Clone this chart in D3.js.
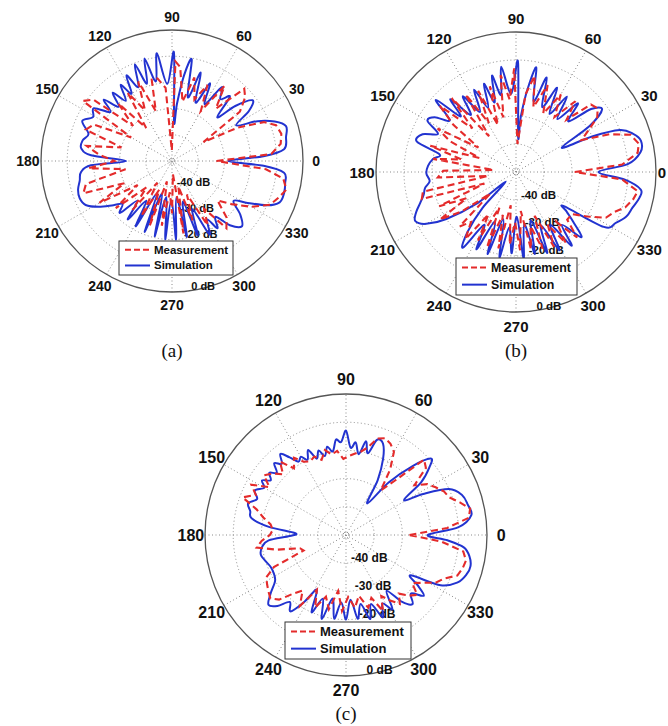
<!DOCTYPE html>
<html>
<head>
<meta charset="utf-8">
<script src="https://cdn.jsdelivr.net/npm/d3@7"></script>
<style>
  body { margin: 0; background: #fff; }
  svg { display: block; }
</style>
</head>
<body>
<svg id="chart"></svg>
<script>
// shared axis values
const angleTicks = [0, 30, 60, 90, 120, 150, 180, 210, 240, 270, 300, 330]
const dbRings = [-40, -30, -20, -10]
const dbLabelValues = [-40, -30, -20, 0]   // -10 dB sits under the legend box
const seriesNames = ['Measurement', 'Simulation']
const panelNames = ['(a)', '(b)', '(c)']

// [angle (deg), gain (dB)]
const simA = [[0,-28.5],[3,-15],[6,-7],[12,-5.5],[17,-4.5],[21,-8],[25,-14],[29,-22],[33,-15],[37,-11.5],[41,-18],[44,-26],[48,-17],[52,-20],[56,-16],[60,-25],[64,-17],[68,-26],[72,-14.5],[76,-25],[79,-10.5],[82,-17],[85,-28],[87,-35],[89,-8.5],[93.5,-20.5],[98,-8.5],[101.5,-19],[105,-9.5],[108,-19],[111,-10.5],[114.5,-19],[118,-13],[121,-20],[124,-15],[127.5,-21],[131,-15.5],[134.5,-21],[138,-15],[141.5,-20],[146,-14],[151,-15.5],[156,-12.5],[162,-16.5],[167,-15],[172,-15],[176,-19],[180,-32.5],[183,-19],[187,-15],[192,-14],[197,-12.5],[202,-12],[207,-13],[212,-17],[217,-22],[221,-25],[225,-22],[229,-30],[233,-22],[237,-32],[241,-21.5],[245,-36],[249,-21],[253,-37],[257,-20.5],[261,-36],[265,-20],[269,-35],[273,-20],[277,-36],[281,-20.5],[285,-34],[289,-20],[293,-30],[297,-18.5],[301,-24],[304,-19],[308,-23],[312,-17],[317,-13.5],[322,-17],[327,-22],[331,-17],[335,-10],[339,-6],[344,-5.5],[349,-6],[354,-7],[357,-15]]
const measA = [[0,-33],[4,-12],[9,-8],[14,-7],[19,-8],[23,-12],[27,-22],[31,-36],[36,-18],[41,-13],[45,-11],[50,-24],[55,-15],[60,-28],[65,-18],[70,-25],[75,-17],[80,-27],[85,-14],[88,-12],[91,-46],[95,-22],[100,-18],[104,-18],[108,-30],[113,-17],[118,-28],[123,-19],[128,-34],[133,-20],[138,-30],[142,-12],[146,-9],[150,-32],[155,-17],[160,-15],[165,-30],[170,-17],[175,-22],[180,-28],[185,-18],[190,-32],[195,-16],[200,-14],[205,-30],[210,-18],[215,-34],[220,-22],[226,-36],[231,-26],[236,-40],[241,-26],[246,-38],[251,-24],[256,-42],[261,-25],[266,-38],[270,-30],[274,-45],[279,-22],[284,-40],[289,-26],[294,-36],[299,-22],[304,-28],[309,-17],[314,-20],[319,-27],[324,-22],[330,-15],[336,-9],[341,-7],[346,-5],[351,-7],[355,-14]]

const simB = [[0,-20.5],[4,-10],[9,-5],[14,-4],[18,-6],[22,-10],[25,-20],[28,-31.5],[32,-19],[36,-12],[40,-15],[44,-24],[48,-17],[52,-26],[56,-17.5],[60,-26],[64,-16.5],[68,-25],[72,-14.5],[76,-24],[79,-12],[82,-20],[85,-30],[86.5,-37.5],[89,-10.5],[93.5,-22],[98,-12],[101,-22],[104,-14.5],[107,-24],[110,-16.5],[113.5,-25],[117,-17],[121,-25],[125,-17],[128.5,-24],[132,-15],[135,-22],[138,-11.5],[142,-20],[146,-15],[150,-13.5],[154,-19],[158,-14],[163,-13],[167,-22],[171,-20],[176,-18.5],[181,-18],[186,-19],[190,-17],[194,-16],[198,-14],[202,-11.5],[206,-10],[210,-13],[214,-20],[219,-32.5],[223,-45],[227,-32.5],[231,-22.5],[235,-17],[239,-28],[243,-19],[247,-31],[251,-19],[255,-32.5],[259,-19],[263,-30],[267,-21],[271,-34],[275,-19],[279,-31],[283,-20],[287,-32],[291,-19],[295,-29],[299,-18],[303,-27.5],[307,-17],[311,-25],[315,-17],[319,-23],[322,-27],[324.5,-29],[328,-13],[333,-10],[338,-7.5],[343,-6.5],[348,-5],[352,-5],[356,-11]]
const measB = [[0,-29],[4,-12],[9,-6],[13,-5],[18,-7],[22,-14],[26,-24],[30,-20],[34,-15],[38,-13],[42,-14],[46,-24],[50,-17],[55,-26],[60,-18],[65,-27],[70,-17],[75,-26],[79,-15],[83,-22],[87,-40],[91,-13],[95,-24],[99,-15],[103,-30],[107,-18],[111,-32],[115,-18],[119,-30],[123,-17],[127,-34],[131,-15],[135,-28],[139,-14],[143,-22],[147,-34],[151,-18],[155,-24],[159,-36],[163,-18],[167,-30],[171,-20],[175,-42],[179,-24],[184,-22],[188,-40],[192,-16],[196,-15],[200,-38],[204,-20],[208,-30],[212,-18],[216,-26],[220,-38],[224,-22],[228,-26],[233,-20],[237,-32],[241,-22],[245,-36],[249,-21],[253,-34],[257,-22],[261,-38],[265,-24],[269,-32],[273,-22],[277,-36],[281,-22],[285,-30],[289,-21],[293,-33],[297,-20],[301,-28],[305,-19],[309,-27],[313,-18],[317,-25],[323,-25],[328,-20],[333,-14],[338,-12],[342,-9],[347,-7],[351,-6],[356,-12]]

const simC = [[0,-21],[4,-10],[9,-5],[14,-5.5],[19,-6.5],[24,-10],[28,-19],[31,-26],[35,-17.5],[39,-12],[42,-9.5],[46,-16],[51,-26],[56,-36.5],[60,-27.5],[64,-20],[68,-15],[72,-14.5],[75,-20],[78,-16],[81,-21],[84,-17],[87,-19],[90,-13],[93,-17],[96,-16],[99,-20],[102,-18],[105,-21],[108,-18.5],[111,-21],[114,-17],[117,-20],[120,-18],[123,-19],[126,-16],[129,-13],[132,-16],[135,-14],[138,-17],[141,-15],[144,-17],[147,-14.5],[150,-16.5],[154,-14],[158,-16],[162,-13.5],[166,-15],[170,-16],[174,-22.5],[178,-32],[181,-30],[184,-22.5],[188,-20],[193,-19],[198,-20],[203,-21],[208,-21],[213,-20],[218,-16],[222,-13],[226,-15],[230,-19],[234,-16.5],[238,-22],[242,-28],[246,-20],[250,-26],[254,-19],[258,-27],[262,-20],[266,-26],[270,-20],[274,-27],[278,-20],[282,-25],[286,-19],[290,-24],[294,-18],[298,-22.5],[302,-19],[306,-25.5],[310,-19],[314,-16],[318,-19],[322,-15],[325,-19],[328,-23],[332,-12],[337,-7],[342,-5],[346,-4.5],[350,-5.5],[354,-8],[357,-14]]
const measC = [[0,-27.5],[4,-14],[8,-6],[12,-5],[16,-8],[20,-11],[24,-12],[28,-14],[32,-16],[36,-20],[40,-13],[44,-11.5],[48,-24],[52,-30],[56,-22],[60,-16],[64,-14],[68,-13],[72,-14],[76,-18],[80,-20],[84,-21],[88,-22],[92,-23],[96,-20],[100,-21],[104,-19],[108,-22],[112,-20],[116,-21],[120,-20],[124,-17],[128,-20],[132,-15],[136,-19],[140,-16],[144,-14],[148,-18],[152,-12],[156,-15],[160,-11],[164,-17],[168,-20],[172,-23],[176,-24],[180,-23],[184,-20],[188,-18],[192,-25],[196,-33],[200,-34],[204,-22],[208,-18],[212,-17],[216,-16],[220,-15],[224,-17],[228,-22],[232,-25],[237,-20],[242,-28],[247,-22],[252,-27],[257,-23],[262,-30],[267,-23],[272,-28],[277,-24],[282,-28],[287,-23],[292,-26],[296,-20],[300,-25],[304,-22],[308,-19],[312,-22],[316,-19],[320,-17],[324,-21],[328,-18],[332,-14],[336,-12],[340,-8],[344,-7],[348,-6.5],[352,-8],[356,-16]]

// panel layout
const panels = [
    {name: panelNames[0], cx: 172, cy: 161, r: 131, tickSize: 14, dbSize: 11, legSize: 11.5, legend: [119, 241, 114, 34], caption: [172, 357], meas: measA, sim: simA},
    {name: panelNames[1], cx: 516, cy: 172, r: 140, tickSize: 15, dbSize: 11.5, legSize: 12.4, legend: [456, 258, 121, 37], caption: [516, 357], meas: measB, sim: simB},
    {name: panelNames[2], cx: 346, cy: 535, r: 141, tickSize: 16, dbSize: 12, legSize: 13, legend: [285, 622, 126, 37], caption: [346, 720], meas: measC, sim: simC}
]

const width = 668
const height = 726
const blue = '#2233d0'
const red = '#e42b2b'
const font = '"Liberation Sans", Arial, Helvetica, sans-serif'

const svg = d3.select('#chart')
    .attr('width', width)
    .attr('height', height)
    .attr('viewBox', `0 0 ${width} ${height}`)
    .style('background', '#fff')

const rad = deg => (90 - deg) * Math.PI / 180

const drawPanel = (p) => {
    const g = svg.append('g').attr('transform', `translate(${p.cx},${p.cy})`)
    const rScale = d3.scaleLinear().domain([-50, 0]).range([0, p.r]).clamp(true)

    // dotted rings
    g.selectAll('.ring')
        .data(dbRings)
        .enter()
        .append('circle')
            .attr('r', d => rScale(d))
            .attr('fill', 'none')
            .attr('stroke', '#8a8a8a')
            .attr('stroke-width', 1)
            .attr('stroke-dasharray', '1,2.5')
    g.append('circle')
        .attr('r', 3)
        .attr('fill', 'none')
        .attr('stroke', '#8a8a8a')
        .attr('stroke-dasharray', '1,1.5')

    // spokes
    g.selectAll('.spoke')
        .data(angleTicks.slice(0, 6))
        .enter()
        .append('line')
            .attr('x1', d => -p.r * Math.cos(d * Math.PI / 180))
            .attr('y1', d => p.r * Math.sin(d * Math.PI / 180))
            .attr('x2', d => p.r * Math.cos(d * Math.PI / 180))
            .attr('y2', d => -p.r * Math.sin(d * Math.PI / 180))
            .attr('stroke', '#8a8a8a')
            .attr('stroke-width', 1)
            .attr('stroke-dasharray', '1,2.5')

    // outer circle
    g.append('circle')
        .attr('r', p.r)
        .attr('fill', 'none')
        .attr('stroke', '#555')
        .attr('stroke-width', 1.3)

    // dB labels, MATLAB style at 82 deg below
    const c82 = Math.cos(82 * Math.PI / 180)
    const s82 = Math.sin(82 * Math.PI / 180)
    g.selectAll('.dblab')
        .data(dbLabelValues)
        .enter()
        .append('text')
            .attr('x', d => rScale(d) * c82 + 1)
            .attr('y', d => rScale(d) * s82 - 1)
            .attr('font-family', font)
            .attr('font-weight', 'bold')
            .attr('font-size', p.dbSize)
            .attr('fill', '#111')
            .text(d => `${d} dB`)

    // angle labels
    g.selectAll('.anglab')
        .data(angleTicks)
        .enter()
        .append('text')
            .attr('x', d => Math.min(1.1 * p.r * Math.cos(d * Math.PI / 180), width - 6 - p.cx))
            .attr('y', d => -1.1 * p.r * Math.sin(d * Math.PI / 180))
            .attr('text-anchor', 'middle')
            .attr('dominant-baseline', 'central')
            .attr('font-family', font)
            .attr('font-weight', 'bold')
            .attr('font-size', p.tickSize)
            .attr('fill', '#111')
            .text(d => d)

    // curves
    const simLine = d3.lineRadial()
        .angle(d => rad(d[0]))
        .radius(d => rScale(d[1]))
        .curve(d3.curveCatmullRomClosed.alpha(0))
    const measLine = d3.lineRadial()
        .angle(d => rad(d[0]))
        .radius(d => rScale(d[1]))
        .curve(d3.curveLinearClosed)

    g.append('path')
        .attr('d', simLine(p.sim))
        .attr('fill', 'none')
        .attr('stroke', blue)
        .attr('stroke-width', 2)
    g.append('path')
        .attr('d', measLine(p.meas))
        .attr('fill', 'none')
        .attr('stroke', red)
        .attr('stroke-width', 2.1)
        .attr('stroke-dasharray', '7,4')

    // legend
    const [lx, ly, lw, lh] = p.legend
    const leg = svg.append('g')
    leg.append('rect')
        .attr('x', lx).attr('y', ly)
        .attr('width', lw).attr('height', lh)
        .attr('fill', '#fff')
        .attr('stroke', '#333')
        .attr('stroke-width', 1)
    const rows = [ly + lh * 0.26, ly + lh * 0.72]
    seriesNames.forEach((name, i) => {
        leg.append('line')
            .attr('x1', lx + 6).attr('x2', lx + 31)
            .attr('y1', rows[i]).attr('y2', rows[i])
            .attr('stroke', i === 0 ? red : blue)
            .attr('stroke-width', 2)
            .attr('stroke-dasharray', i === 0 ? '6,3' : null)
        leg.append('text')
            .attr('x', lx + 35)
            .attr('y', rows[i])
            .attr('dominant-baseline', 'central')
            .attr('font-family', font)
            .attr('font-weight', 'bold')
            .attr('font-size', p.legSize)
            .attr('fill', '#111')
            .text(name)
    })

    // caption
    svg.append('text')
        .attr('x', p.caption[0])
        .attr('y', p.caption[1])
        .attr('text-anchor', 'middle')
        .attr('font-family', '"Liberation Serif", "Times New Roman", serif')
        .attr('font-size', 19)
        .attr('fill', '#111')
        .text(p.name)
}

panels.forEach(drawPanel)
</script>
</body>
</html>
